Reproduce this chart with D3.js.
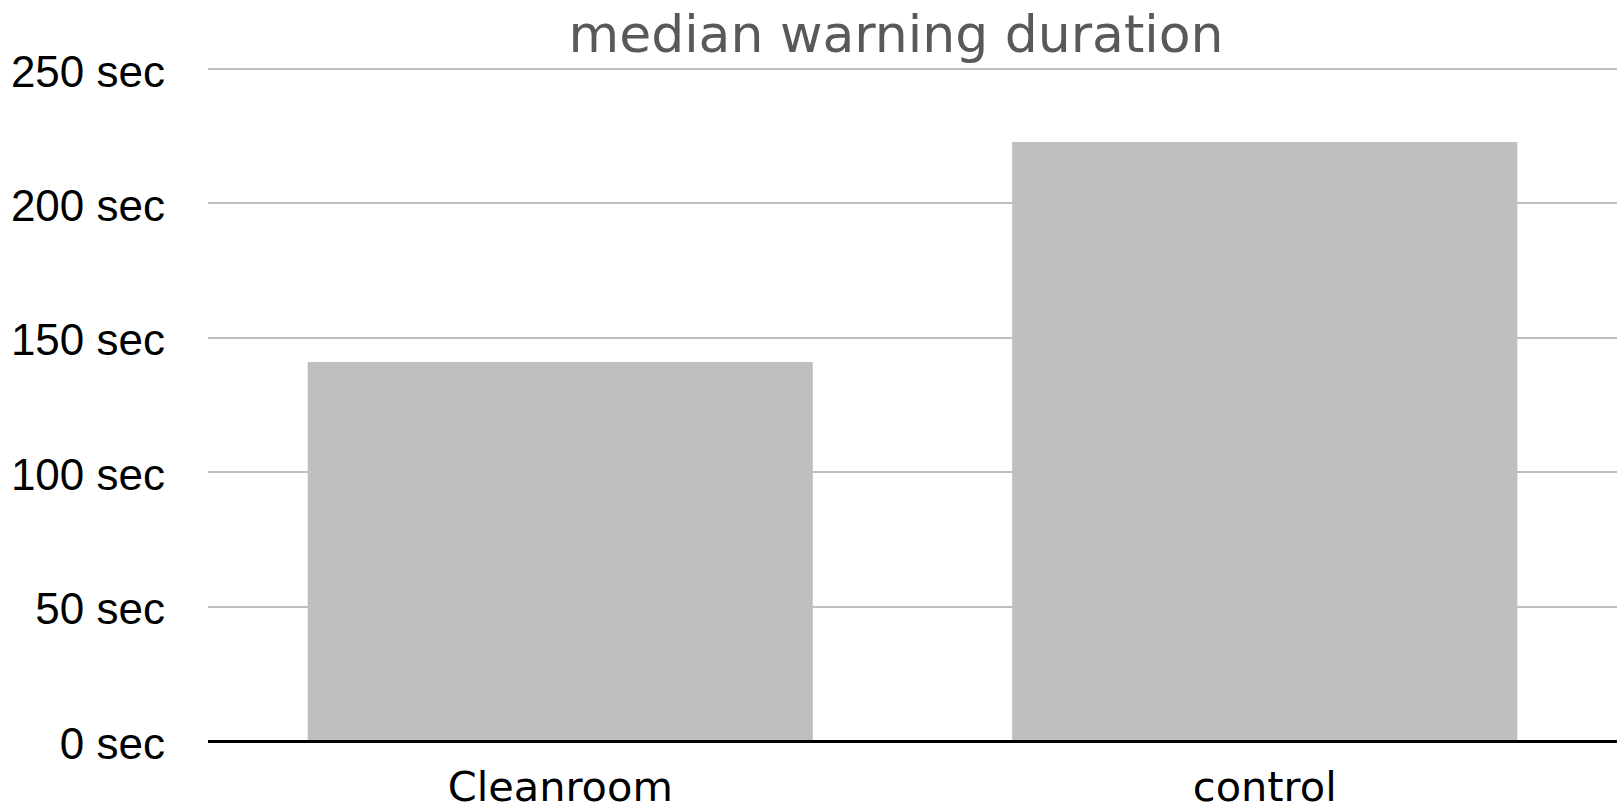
<!DOCTYPE html>
<html>
<head>
<meta charset="utf-8">
<script src="https://cdn.jsdelivr.net/npm/d3@7"></script>
<style>
  body { margin: 0; background: #fff; }
  svg { display: block; }
</style>
</head>
<body>
<div class="chart"></div>
<script>
// ---------- Data
var categories = ["Cleanroom", "control"];
var medianSeconds = [141, 223];
var tickValues = [0, 50, 100, 150, 200, 250];
var chartTitle = "median warning duration";

// ---------- Layout
var width = 1617;
var height = 812;
var plotLeft = 208;
var plotRight = 1617;
var plotTop = 69;
var plotBottom = 741;

var barColor = "#bfbfbf";
var gridColor = "#bfbfbf";

var svg = d3.select("div.chart")
	.append("svg")
	.attr("width", width)
	.attr("height", height);

var x = d3.scaleBand()
	.domain(categories)
	.range([plotLeft, plotRight])
	.paddingInner(0.283)
	.paddingOuter(0.1415);

var y = d3.scaleLinear()
	.domain([0, 250])
	.range([plotBottom, plotTop]);

// gridlines (snapped to whole pixels so they stay crisp)
svg.append("g")
	.selectAll("line")
	.data(tickValues.filter(d => d > 0))
	.enter()
	.append("line")
	.attr("x1", plotLeft)
	.attr("x2", plotRight)
	.attr("y1", d => Math.round(y(d)))
	.attr("y2", d => Math.round(y(d)))
	.attr("stroke", gridColor)
	.attr("stroke-width", 2);

// y tick labels
svg.append("g")
	.selectAll("text")
	.data(tickValues)
	.enter()
	.append("text")
	.attr("x", 165)
	.attr("y", d => y(d))
	.attr("dy", "0.4em")
	.attr("text-anchor", "end")
	.style("font-family", "'Liberation Sans', Arial, sans-serif")
	.style("font-size", "44px")
	.style("fill", "#000")
	.text(d => d + " sec");

// bars
svg.append("g")
	.selectAll("rect")
	.data(categories)
	.enter()
	.append("rect")
	.attr("x", d => x(d))
	.attr("width", x.bandwidth())
	.attr("y", (d, i) => Math.round(y(medianSeconds[i])))
	.attr("height", (d, i) => y(0) - Math.round(y(medianSeconds[i])))
	.attr("fill", barColor);

// baseline axis
svg.append("line")
	.attr("x1", plotLeft)
	.attr("x2", plotRight)
	.attr("y1", y(0) + 0.5)
	.attr("y2", y(0) + 0.5)
	.attr("stroke", "#000")
	.attr("stroke-width", 3);

// category labels - kept just inside the bottom edge
svg.append("g")
	.selectAll("text")
	.data(categories)
	.enter()
	.append("text")
	.attr("x", d => x(d) + x.bandwidth() / 2)
	.attr("y", y(0) + 60)
	.attr("text-anchor", "middle")
	.style("font-family", "'DejaVu Sans', sans-serif")
	.style("font-size", "41.5px")
	.style("fill", "#000")
	.text(d => d);

// title
svg.append("text")
	.attr("x", 896)
	.attr("y", 52)
	.attr("text-anchor", "middle")
	.style("font-family", "'DejaVu Sans', sans-serif")
	.style("font-size", "52px")
	.style("fill", "#595959")
	.text(chartTitle);
</script>
</body>
</html>
